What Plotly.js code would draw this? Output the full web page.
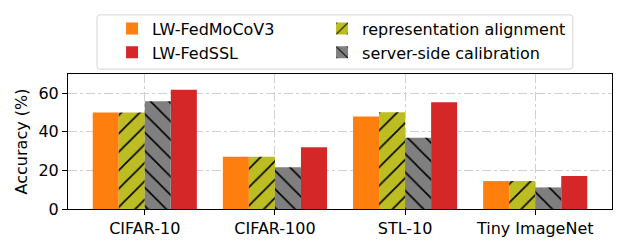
<!DOCTYPE html>
<html><head><meta charset="utf-8">
<script src="https://cdn.plot.ly/plotly-3.0.1.min.js"></script>
<style>html,body{margin:0;padding:0;background:#fff}#chart{width:624px;height:250px}</style>
</head><body><div id="chart"></div>
<script>
const categories = ["CIFAR-10", "CIFAR-100", "STL-10", "Tiny ImageNet"];
const lwFedMoCoV3 = [50.0, 27.1, 47.9, 14.5];
const reprAlignment = [50.0, 27.1, 50.2, 14.5];
const serverCalib = [55.9, 21.6, 37.0, 11.2];
const lwFedSSL = [61.8, 32.0, 55.3, 17.1];
const yTicks = [0, 20, 40, 60];

const F = "DejaVu Sans, sans-serif";
const FS = 16;
function bar(name, y, color, offset, legend, pattern) {
  const t = {type: "bar", name: name, x: [0,1,2,3], y: y, width: 0.2, offset: offset, legend: legend,
    marker: {color: color, line: {width: 0}}};
  if (pattern) t.marker.pattern = {shape: pattern, fgcolor: "#000", bgcolor: color, size: 13, solidity: 0.12, fillmode: "replace"};
  return t;
}
const data = [
  bar("LW-FedMoCoV3", lwFedMoCoV3, "#ff7f0e", -0.4, "legend"),
  bar("LW-FedSSL", lwFedSSL, "#d62728", 0.2, "legend"),
  bar("representation alignment", reprAlignment, "#bcbd22", -0.2, "legend2", "/"),
  bar("server-side calibration", serverCalib, "#7f7f7f", 0.0, "legend2", "\\"),
];
const legBase = {yanchor: "top", xanchor: "left", borderwidth: 0, bgcolor: "rgba(0,0,0,0)",
  font: {family: F, size: FS}, orientation: "v", traceorder: "normal", itemwidth: 30};
const layout = {
  width: 624, height: 250,
  margin: {l: 68, r: 12, t: 72, b: 41},
  barmode: "overlay",
  paper_bgcolor: "#fff", plot_bgcolor: "#fff",
  font: {family: F, size: FS, color: "#000"},
  showlegend: true,
  legend: Object.assign({}, legBase, {x: 0.081, y: 1.462}),
  legend2: Object.assign({}, legBase, {x: 0.467, y: 1.462}),
  shapes: [{type: "path", xref: "paper", yref: "paper",
    path: "M0.0588,1.438 L0.9228,1.438 Q0.928,1.438 0.928,1.416 L0.928,1.058 Q0.928,1.036 0.9228,1.036 L0.0588,1.036 Q0.0533,1.036 0.0533,1.058 L0.0533,1.416 Q0.0533,1.438 0.0588,1.438 Z",
    line: {color: "#d5d5d5", width: 1}, fillcolor: "rgba(255,255,255,0.8)", layer: "below"}],
  xaxis: {range: [-0.59, 3.59], tickmode: "array", tickvals: [0,1,2,3], ticktext: categories,
    showgrid: true, gridcolor: "#d0d0d0", griddash: "dashdot", gridwidth: 1,
    showline: true, linecolor: "#000", linewidth: 1, mirror: true,
    ticks: "outside", ticklen: 5, tickcolor: "#000", zeroline: false, tickfont: {size: FS}},
  yaxis: {range: [0, 70], tickmode: "array", tickvals: yTicks, ticktext: yTicks.map(String),
    showgrid: true, gridcolor: "#d0d0d0", griddash: "dashdot", gridwidth: 1,
    showline: true, linecolor: "#000", linewidth: 1, mirror: true,
    ticks: "outside", ticklen: 5, tickcolor: "#000", zeroline: false, tickfont: {size: FS},
    title: {text: "Accuracy (%)", font: {size: FS}, standoff: 6}},
};
Plotly.newPlot("chart", data, layout, {staticPlot: true, displayModeBar: false});
</script></body></html>
